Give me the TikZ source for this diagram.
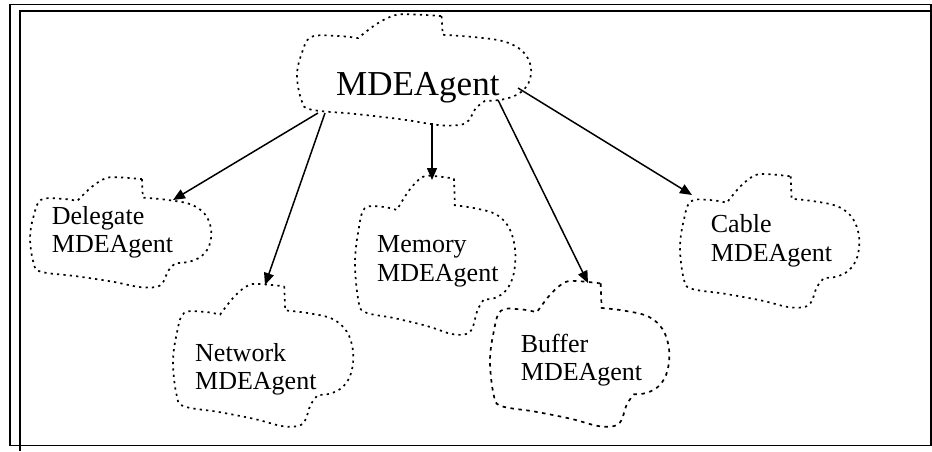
\documentclass[tikz,border=0pt]{standalone}
\usepackage{fontspec}
\setmainfont{Liberation Serif}
\usetikzlibrary{arrows.meta}
\newcommand\mdecloud[5]{%
 \begin{scope}[shift={(#1,#2)},x=#3pt,y=-#4pt]
 \draw[#5] (0.615,0.01) -- (0.62,0.18)
   -- plot[smooth,tension=0.6] coordinates {(0.62,0.18)(0.75,0.2)(0.88,0.24)(0.96,0.33)(0.995,0.47)(0.985,0.62)(0.94,0.72)(0.87,0.77)(0.8,0.78)}
   -- plot[smooth,tension=0.6] coordinates {(0.8,0.78)(0.76,0.85)(0.73,0.96)(0.69,1.0)(0.6,1.0)(0.45,0.95)(0.25,0.9)(0.06,0.86)(0.02,0.78)(0.0,0.55)(0.02,0.35)(0.06,0.2)(0.17,0.19)(0.26,0.21)}
   -- plot[smooth,tension=0.6] coordinates {(0.26,0.21)(0.34,0.08)(0.42,0.0)(0.5,-0.005)(0.615,0.01)} -- cycle;
 \end{scope}}
\begin{document}
\begin{tikzpicture}[x=1pt,y=-1pt,
  frame/.style={line width=1.4pt,black},
  dotcloud/.style={line width=1.7pt,dash pattern=on 2.2pt off 4.2pt},
  dashcloud/.style={line width=1.7pt,dash pattern=on 3.5pt off 4.5pt},
  big/.style={font=\fontsize{35}{39}\selectfont,inner sep=0pt,anchor=base west},
  lbl/.style={font=\fontsize{26}{30}\selectfont,inner sep=0pt,anchor=base west},
  arr/.style={line width=1.5pt,-{Triangle[length=12pt,width=10pt]}}]
\useasboundingbox (0,0) rectangle (932,451);
% frame
\draw[frame] (10,445.5) -- (10,4.5) -- (931,4.5) -- (931,445.5) -- cycle;
\draw[frame] (20,451) -- (20,11) -- (931,11);
% clouds
\mdecloud{297}{15}{235}{110}{dotcloud}
\mdecloud{30}{178}{182}{109}{dotcloud}
\mdecloud{173}{285}{181}{141}{dotcloud}
\mdecloud{355}{177}{161}{157}{dotcloud}
\mdecloud{490}{282}{180}{144}{dashcloud}
\mdecloud{680}{175}{180}{132}{dotcloud}
% texts
\node[big] (top) at (336,95) {MDEAgent};
\node[lbl] (del1) at (51.7,224) {Delegate};
\node[lbl] (del2) at (51.7,252) {MDEAgent};
\node[lbl] (net1) at (195,361) {Network};
\node[lbl] (net2) at (195,389) {MDEAgent};
\node[lbl] (mem1) at (377,252) {Memory};
\node[lbl] (mem2) at (377,281) {MDEAgent};
\node[lbl] (buf1) at (520.7,352) {Buffer};
\node[lbl] (buf2) at (520.7,380) {MDEAgent};
\node[lbl] (cab1) at (710.7,232) {Cable};
\node[lbl] (cab2) at (710.7,261) {MDEAgent};
% connector end points on the cloud outlines
\coordinate (tD) at (318,113); \coordinate (eD) at (173,200);
\coordinate (tN) at (325,113); \coordinate (eN) at (265,285);
\coordinate (tM) at (432,123); \coordinate (eM) at (432,180);
\coordinate (tB) at (498,100); \coordinate (eB) at (588,283);
\coordinate (tC) at (518,88);  \coordinate (eC) at (692,195);
\draw[arr] (tD) -- (eD);
\draw[arr] (tN) -- (eN);
\draw[arr] (tM) -- (eM);
\draw[arr] (tB) -- (eB);
\draw[arr] (tC) -- (eC);
\end{tikzpicture}
\end{document}
